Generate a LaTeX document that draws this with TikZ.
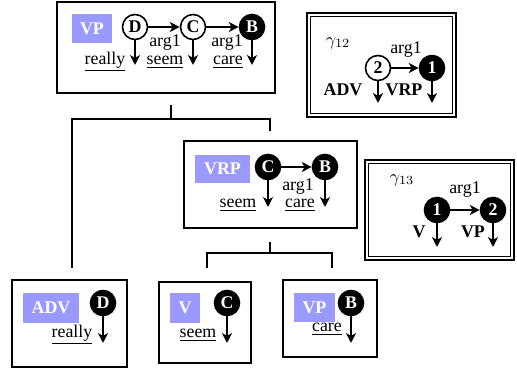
\documentclass[tikz,border=0pt]{standalone}
\usepackage{fontspec}
\setmainfont{Liberation Serif}
\usetikzlibrary{arrows.meta,calc}
\definecolor{labcol}{RGB}{153,153,255}
\def\pxu{0.56pt}
\begin{document}
\begin{tikzpicture}[x=0.56pt,y=-0.56pt,
  box/.style={draw,line width=1.1pt,inner sep=0},
  gbox/.style={draw,line width=1.3pt,inner sep=0},
  lab/.style={fill=labcol,text=white,font=\bfseries,inner sep=0},
  ocirc/.style={circle,draw,line width=0.9pt,fill=white,minimum size=14pt,inner sep=0,font=\bfseries},
  fcirc/.style={circle,draw,line width=0.9pt,fill=black,text=white,minimum size=14pt,inner sep=0,font=\bfseries},
  arr/.style={-{Stealth[length=5.5pt,width=5.5pt,inset=1.5pt]},line width=1.1pt},
  txt/.style={inner sep=0},
  btxt/.style={inner sep=0,font=\bfseries},
  tree/.style={line width=1.1pt}]
\useasboundingbox (0,0) rectangle (517,372);

% ---------- top VP ----------
\node[box,minimum width=218*\pxu,minimum height=91*\pxu] (vp) at (166,47.5) {};
\node[lab,minimum width=40*\pxu,minimum height=29*\pxu] (vpl) at (92,28.5) {VP};
\node[ocirc] (d1) at (135,27) {D};
\node[ocirc] (c1) at (193,27) {C};
\node[fcirc] (b1) at (252,27) {B};
\coordinate (d1e) at (135,65);
\coordinate (c1e) at (193,65);
\coordinate (b1e) at (252,65);
\draw[arr] (d1) -- (c1);
\draw[arr] (c1) -- (b1);
\draw[arr] (d1) -- (d1e);
\draw[arr] (c1) -- (c1e);
\draw[arr] (b1) -- (b1e);
\node[txt] (a11) at (165,43) {arg1};
\node[txt] (a12) at (227,43) {arg1};
\node[txt] (w11) at (105,62) {\underline{really}};
\node[txt] (w12) at (165,62) {\underline{seem}};
\node[txt] (w13) at (228,62) {\underline{care}};

% ---------- tree lines ----------
\coordinate (t1) at (171,105);
\coordinate (t2) at (171,119);
\coordinate (t3) at (72,119);
\coordinate (t4) at (72,268);
\coordinate (t5) at (270,119);
\coordinate (t6) at (270,131);
\draw[tree] (t1) -- (t2);
\draw[tree] (t4) -- (t3) -- (t5) -- (t6);
\coordinate (s1) at (270,242);
\coordinate (s2) at (270,253);
\coordinate (s3) at (207,253);
\coordinate (s4) at (207,268);
\coordinate (s5) at (332,253);
\coordinate (s6) at (332,268);
\draw[tree] (s1) -- (s2);
\draw[tree] (s4) -- (s3) -- (s5) -- (s6);

% ---------- VRP ----------
\node[box,minimum width=173*\pxu,minimum height=87*\pxu] (vrp) at (270.5,184.5) {};
\node[lab,minimum width=55*\pxu,minimum height=28*\pxu] (vrpl) at (222.5,169) {VRP};
\node[fcirc] (c2) at (268,167) {C};
\node[fcirc] (b2) at (325,167) {B};
\coordinate (c2e) at (268,207);
\coordinate (b2e) at (325,207);
\draw[arr] (c2) -- (b2);
\draw[arr] (c2) -- (c2e);
\draw[arr] (b2) -- (b2e);
\node[txt] (a21) at (298,187) {arg1};
\node[txt] (w21) at (238,205) {\underline{seem}};
\node[txt] (w22) at (300,205) {\underline{care}};

% ---------- gamma 12 ----------
\node[gbox,minimum width=149*\pxu,minimum height=104*\pxu] (g12) at (381.5,65) {};
\draw[line width=0.7pt] ($(g12.south west)+(4.5,-4.5)$) rectangle ($(g12.north east)+(-4.5,4.5)$);
\node[txt] (g12t) at (338,43) {$\gamma_{12}$};
\node[ocirc] (n2a) at (378,68) {2};
\node[fcirc] (n1a) at (432,68) {1};
\coordinate (n2ae) at (378,103);
\coordinate (n1ae) at (432,103);
\draw[arr] (n2a) -- (n1a);
\draw[arr] (n2a) -- (n2ae);
\draw[arr] (n1a) -- (n1ae);
\node[txt] (a3) at (406,50) {arg1};
\node[btxt] (adv3) at (343,90) {ADV};
\node[btxt] (vrp3) at (404,90) {VRP};

% ---------- gamma 13 ----------
\node[gbox,minimum width=149*\pxu,minimum height=100*\pxu] (g13) at (439.5,210) {};
\draw[line width=0.7pt] ($(g13.south west)+(4.5,-4.5)$) rectangle ($(g13.north east)+(-4.5,4.5)$);
\node[txt] (g13t) at (402,180) {$\gamma_{13}$};
\node[fcirc] (n1b) at (437,210) {1};
\node[fcirc] (n2b) at (493,210) {2};
\coordinate (n1be) at (437,247);
\coordinate (n2be) at (493,247);
\draw[arr] (n1b) -- (n2b);
\draw[arr] (n1b) -- (n1be);
\draw[arr] (n2b) -- (n2be);
\node[txt] (a4) at (465,190) {arg1};
\node[btxt] (v4) at (419,232) {V};
\node[btxt] (vp4) at (473,232) {VP};

% ---------- bottom ADV ----------
\node[box,minimum width=115*\pxu,minimum height=87*\pxu] (adv) at (69.5,323.5) {};
\node[lab,minimum width=56*\pxu,minimum height=30*\pxu] (advl) at (51,308) {ADV};
\node[fcirc] (d5) at (103,303) {D};
\coordinate (d5e) at (103,343);
\draw[arr] (d5) -- (d5e);
\node[txt] (w5) at (72,335) {\underline{really}};

% ---------- bottom V ----------
\node[box,minimum width=92*\pxu,minimum height=81*\pxu] (vb) at (205,322.5) {};
\node[lab,minimum width=30*\pxu,minimum height=30*\pxu] (vbl) at (185,308) {V};
\node[fcirc] (c6) at (227,303) {C};
\coordinate (c6e) at (227,343);
\draw[arr] (c6) -- (c6e);
\node[txt] (w6) at (198,335) {\underline{seem}};

% ---------- bottom VP ----------
\node[box,minimum width=94*\pxu,minimum height=77*\pxu] (vpb) at (330,318.5) {};
\node[lab,minimum width=41*\pxu,minimum height=29*\pxu] (vpbl) at (314.5,307.5) {VP};
\node[fcirc] (b7) at (351,303) {B};
\coordinate (b7e) at (351,343);
\draw[arr] (b7) -- (b7e);
\node[txt] (w7) at (327,329) {\underline{care}};
\end{tikzpicture}
\end{document}
